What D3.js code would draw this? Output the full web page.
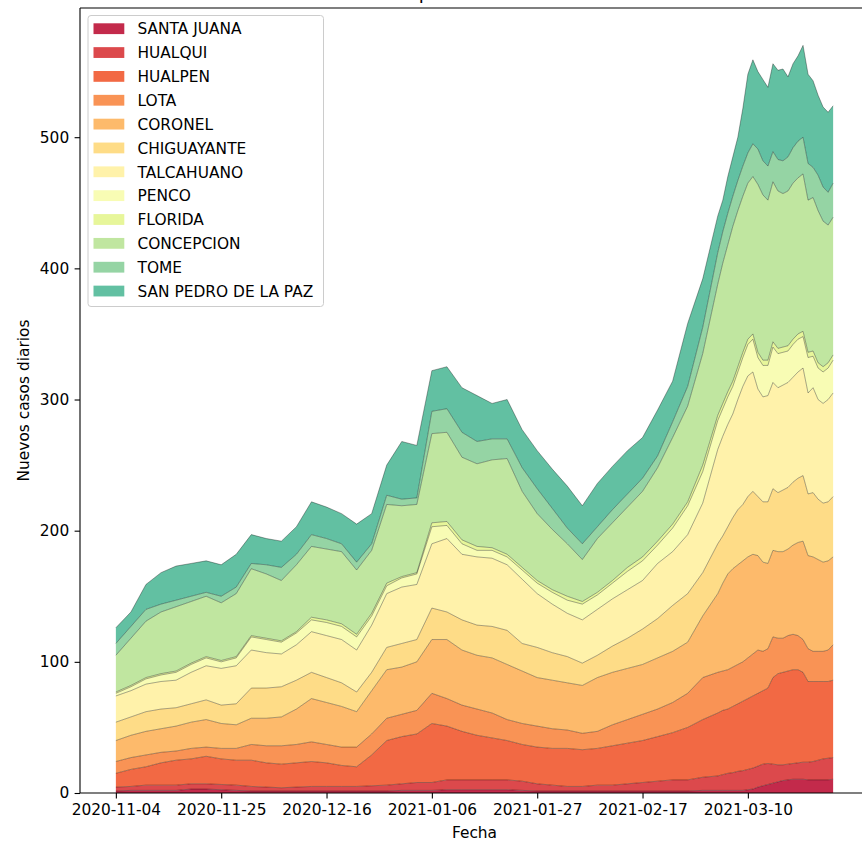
<!DOCTYPE html>
<html><head><meta charset="utf-8">
<script src="https://cdn.jsdelivr.net/npm/d3@7"></script>
<style>
body{margin:0;background:#fff}
svg{display:block}
text{font-family:"DejaVu Sans",sans-serif;fill:#000}
</style>
</head><body>
<svg id="chart" width="862" height="842"></svg>
<script>
const chartTitle = "Top 12 comunas";
const comunas = ["SANTA JUANA","HUALQUI","HUALPEN","LOTA","CORONEL","CHIGUAYANTE","TALCAHUANO","PENCO","FLORIDA","CONCEPCION","TOME","SAN PEDRO DE LA PAZ"];
const colors = ["#c32a4b","#dc494c","#f26944","#f99355","#fdba6b","#fedc87","#fff2aa","#f8fcb4","#e7f69a","#c0e6a0","#95d4a4","#62c0a2"];
const dates = ["2020-11-04","2020-11-07","2020-11-10","2020-11-13","2020-11-16","2020-11-19","2020-11-22","2020-11-25","2020-11-28","2020-12-01",
"2020-12-04","2020-12-07","2020-12-10","2020-12-13","2020-12-16","2020-12-19","2020-12-22","2020-12-25","2020-12-28","2020-12-31",
"2021-01-03","2021-01-06","2021-01-09","2021-01-12","2021-01-15","2021-01-18","2021-01-21","2021-01-24","2021-01-27","2021-01-30",
"2021-02-02","2021-02-05","2021-02-08","2021-02-11","2021-02-14","2021-02-17","2021-02-20","2021-02-23","2021-02-26","2021-03-01",
"2021-03-04","2021-03-05","2021-03-06","2021-03-07","2021-03-08","2021-03-09","2021-03-10","2021-03-11","2021-03-12","2021-03-13",
"2021-03-14","2021-03-15","2021-03-16","2021-03-17","2021-03-18","2021-03-19","2021-03-20","2021-03-21","2021-03-22","2021-03-23",
"2021-03-24","2021-03-25","2021-03-26","2021-03-27"];
const santaJuana  = [1.5,2,2,2,2,3,3,2.5,2,1.5,1.5,1.5,1.5,1.5,1.5,1.5,1.5,1.5,1.5,2,2,2,2.5,2.5,2.5,2.5,2.5,2,1.5,1.5,1.5,1.5,1.5,1.5,1.5,1.5,1.5,1.5,1.5,2,
  2,2,2,2,2,2,2.5,3,4.5,5.5,6.5,7.5,8.5,9.5,10,10.5,10.5,10.5,10,10,10,10,10,10.5];
const hualqui     = [3,3,4,4,4,4,4,4,4,3.5,3,2.5,3,3.5,3.5,3.5,3.5,4,4.5,5,6,6,7.5,7.5,7.5,7.5,7.5,7,5.5,4.5,3.5,3.5,4.5,4.5,5.5,6.5,7.5,8.5,8.5,10,
  11,12,13,13.5,14.5,15,15.5,16,16,16.5,16,14.5,13,12,12,12,12.5,13,13.5,14,15,16,16.5,16.5];
const hualpen     = [10.5,13,14,17,19,19,21,19.5,19,20,18.5,18,18.5,19,18,16,15,23.5,34,36,37,45,41,37,34,32,30,28,28,28,29,28,28,30,31,32,34,36,40,44,
  48,49,49,50.5,51.5,53,54,55,55.5,56,57.5,66,69.5,70.5,71,71.5,71,68.5,61.5,61,60,59,58.5,59];
const lota        = [9,9,9,8,7,8,7,8,9,12,13,14,14,15,14,14,15,16,17,17,18,23,21,20,20,19,16,16,16,15,14,12.5,13,16,18,20,21,23,26,32,
  31,30,30,30,30,30,31,32,33,30,30,31,27,26,27,27,26,25,25,23,23,23,24,27];
const coronel     = [16,17,18,18,19,20,21,19,18,20,21,22,27,33,32,31,27,33,37,36,37,41,45,42,41,42,42,40,37,37,36,36.5,41,40,39,38,39,39,39,47,
  60,67,73,75,76,77,77,76,72,68,65,66,66,66,66,68,71,75,71,72,70,68,68,67];
const chiguayante = [14,14,15,15,14,14,15,14,16,23,23,23,22,20,19,18,15,14,17,18,17,24,21,23,23,24,26,21,23,21,20,17,17,20,23,27,30,35,37,33,
  38,36,36,39,42,43,46,48,45,46,47,47,45,47,47,48,49,50,47,49,46,45,45,46];
const talcahuano  = [20,20,21,21,21,24,26,28,29,29,27,25,27,31,32,33,32,36,41,43,42,49,56,50,52,52,50,49,41,37,33,33,35,36,37,37,42,41,45,53,
  72,76,78,79,84,90,92,91,82,80,81,81,80,80,80,80,81,82,77,80,76,76,78,79];
const penco       = [2,3,4,5,6,6,6,5,6,10,10,9,9,9,10,10,10,7,6,7,8,13,10,8,5,6,6,7,8,9,10,12,11,12,14,15,14,18,22,24,
  22,21,21,21,21,22,24,25,24,24,23,27,26,25,24,25,25,24,27,24,24,24,24,25];
const florida     = [1,1,1,1,1,1,1,1,1,1,1,1,1,2,2,2,2,2,2,1,1,3,3,3,3,2,2,2,2,2,3,2,2,2,3,3,3,3,3,5,
  4,4,4,4,4,4,4,4,4,4,4,4,4,4,4,4,4,4,4,4,4,4,4,4];
const concepcion  = [28,36,43,47,49,47,46,44,48,51,49,46,51,54,54,55,49,48,60,54,52,68,68,63,63,67,73,58,51,46,40,32,41,44,46,50,56,66,73,85,
  100,107,112,118,119,119,119,120,128,126,122,122,120,117,118,119,119,120,116,117,116,111,105,105];
const tome        = [9,9,9,6,5,4,3,5,5,4,7,10,8,9,8,6,6,5,7,5,5,17,18,19,17,16,15,18,19,16,12,12,9,10,10,10,9,12,15,20,
  24,24,24,23,23,23,23,25,27,26,26,23,24,25,26,27,28,28,28,23,27,26,25,26];
const sanPedro    = [12,11,19,24,26,25,24,24,25,22,20,20,21,25,24,23,29,23,23,44,40,31,32,34,35,27,30,29,29,30,32,29,33,33,33,31,35,31,48,37,
  28,24,28,30,33,44,60,64,59,62,60,67,68,70,61,64,65,70,68,66,61,61,61,59];
const xTickLabels = ["2020-11-04","2020-11-25","2020-12-16","2021-01-06","2021-01-27","2021-02-17","2021-03-10"];
const yTicks = [0,100,200,300,400,500];

const seriesList = [santaJuana,hualqui,hualpen,lota,coronel,chiguayante,talcahuano,penco,florida,concepcion,tome,sanPedro];
const parse = d3.utcParse("%Y-%m-%d");
const rows = dates.map((d,i)=>{const r={date:parse(d)}; comunas.forEach((k,j)=>{r[k]=seriesList[j][i];}); return r;});
const stacked = d3.stack().keys(comunas)(rows);
const totalMax = d3.max(stacked[stacked.length-1], d=>d[1]);

const M = {left:80,right:869,top:8,bottom:793};
const FS = 15.4;
const t0 = rows[0].date, t1 = rows[rows.length-1].date;
const pad = (t1 - t0)*0.05;
const x = d3.scaleUtc().domain([new Date(+t0 - pad), new Date(+t1 + pad)]).range([M.left, M.right]);
const y = d3.scaleLinear().domain([0, totalMax*1.05]).range([M.bottom, M.top]);

const svg = d3.select("#chart");
svg.append("rect").attr("width",862).attr("height",842).attr("fill","#fff");

const plot = svg.append("g");
const area = d3.area().x(d=>x(d.data.date)).y0(d=>y(d[0])).y1(d=>y(d[1]));
const line = d3.line().x(d=>x(d.data.date)).y(d=>y(d[1]));
plot.selectAll("path.layer").data(stacked).join("path")
  .attr("class","layer").attr("d",area).attr("fill",(d,i)=>colors[i]);
plot.selectAll("path.edge").data(stacked).join("path")
  .attr("class","edge").attr("d",line).attr("fill","none")
  .attr("stroke","#000").attr("stroke-opacity",0.42).attr("stroke-width",0.8).attr("stroke-linejoin","round");

// axes
const tk = 5.4;
const xAxis = d3.axisBottom(x).tickValues(xTickLabels.map(parse)).tickFormat(d3.utcFormat("%Y-%m-%d")).tickSize(tk).tickPadding(5.4);
const gx = svg.append("g").attr("transform",`translate(0,${M.bottom})`).call(xAxis);
gx.select(".domain").remove();
gx.selectAll("line").attr("stroke","#000").attr("stroke-width",1.1);
gx.selectAll("text").attr("font-size",FS).attr("font-family","DejaVu Sans").attr("fill","#000");

const yAxis = d3.axisLeft(y).tickValues(yTicks).tickFormat(d3.format("d")).tickSize(tk).tickPadding(5.4);
const gy = svg.append("g").attr("transform",`translate(${M.left},0)`).call(yAxis);
gy.select(".domain").remove();
gy.selectAll("line").attr("stroke","#000").attr("stroke-width",1.1);
gy.selectAll("text").attr("font-size",FS).attr("font-family","DejaVu Sans").attr("fill","#000");

// spines
const sp = svg.append("g").attr("stroke","#000").attr("stroke-width",1.1).attr("fill","none");
sp.append("line").attr("x1",M.left).attr("x2",M.right).attr("y1",M.bottom).attr("y2",M.bottom);
sp.append("line").attr("x1",M.left).attr("x2",M.left).attr("y1",M.top).attr("y2",M.bottom);
sp.append("line").attr("x1",M.left).attr("x2",M.right).attr("y1",M.top).attr("y2",M.top);
sp.append("line").attr("x1",M.right).attr("x2",M.right).attr("y1",M.top).attr("y2",M.bottom);

// labels
svg.append("text").attr("x",(M.left+M.right)/2).attr("y",838).attr("text-anchor","middle").attr("font-size",FS).text("Fecha");
svg.append("text").attr("transform",`translate(29,${(M.top+M.bottom)/2}) rotate(-90)`).attr("text-anchor","middle").attr("font-size",FS).text("Nuevos casos diarios");
svg.append("text").attr("x",(M.left+M.right)/2).attr("y",-1.25).attr("text-anchor","middle").attr("font-size",18.5).text(chartTitle);

// legend
const lg = svg.append("g");
lg.append("rect").attr("x",88).attr("y",15.5).attr("width",235.5).attr("height",291).attr("rx",3)
  .attr("fill","#fff").attr("fill-opacity",0.8).attr("stroke","#ccc").attr("stroke-width",1);
const rowH = 23.85, row0 = 28.7;
const items = lg.selectAll("g.item").data(comunas).join("g").attr("class","item")
  .attr("transform",(d,i)=>`translate(0,${row0 + i*rowH})`);
items.append("rect").attr("x",93.5).attr("y",-5.4).attr("width",30.8).attr("height",10.8).attr("fill",(d,i)=>colors[i]);
items.append("text").attr("x",137.5).attr("y",5.7).attr("font-size",FS).text(d=>d);
</script>
</body></html>
